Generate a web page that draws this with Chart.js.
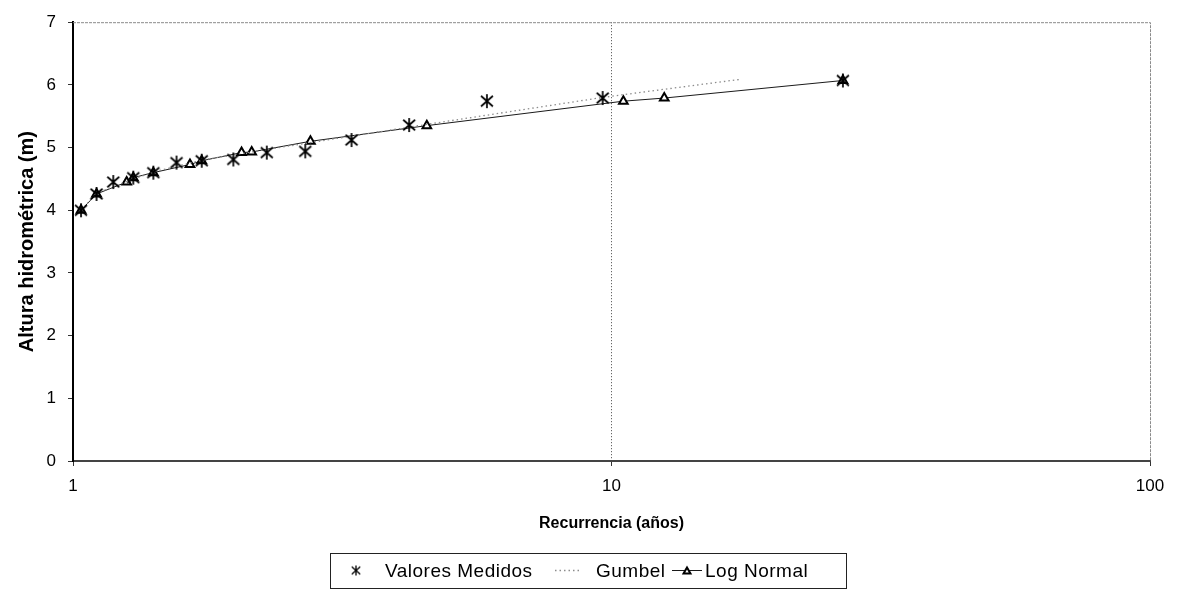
<!DOCTYPE html>
<html>
<head>
<meta charset="utf-8">
<script src="https://cdn.jsdelivr.net/npm/chart.js@4.4.1/dist/chart.umd.min.js"></script>
<style>
  html, body { margin: 0; padding: 0; background: #fff; }
  #wrap { width: 1181px; height: 590px; position: relative; }
</style>
</head>
<body>
<div id="wrap"><canvas id="chart" width="1181" height="590"></canvas></div>
<script>
// Recurrence period (years) and stage height (m) for each series
const medidosT = [1.035, 1.106, 1.188, 1.294, 1.41, 1.557, 1.734, 1.985, 2.29, 2.70, 3.29, 4.21, 5.87, 9.63, 26.9];
const medidosH = [4.00, 4.26, 4.45, 4.52, 4.60, 4.76, 4.79, 4.81, 4.92, 4.94, 5.12, 5.36, 5.74, 5.79, 6.07];

const gumbelT = [1.035, 1.106, 1.258, 1.41, 1.734, 2.147, 2.76, 4.54, 9.63, 12.53, 17.4];
const gumbelH = [4.00, 4.27, 4.46, 4.61, 4.80, 4.93, 5.08, 5.37, 5.80, 5.93, 6.09];

const logNormalT = [1.035, 1.106, 1.258, 1.294, 1.41, 1.649, 1.734, 2.056, 2.147, 2.76, 4.54, 10.52, 12.53, 26.9];
const logNormalH = [4.00, 4.26, 4.45, 4.52, 4.60, 4.73, 4.79, 4.92, 4.93, 5.10, 5.35, 5.74, 5.79, 6.07];

const xTicks = [1, 10, 100];
const yTicks = [0, 1, 2, 3, 4, 5, 6, 7];

const FONT = "'Liberation Sans', Arial, sans-serif";

function pairs(xs, ys) {
  return xs.map(function(x, i) { return {x: x, y: ys[i]}; });
}

// six-spoke asterisk used for the measured values
function asterisk(size, lw) {
  const c = document.createElement('canvas');
  c.width = size; c.height = size;
  const g = c.getContext('2d');
  const m = size / 2, r = size / 2 - 1;
  g.strokeStyle = '#000';
  g.lineWidth = lw;
  g.beginPath();
  g.moveTo(m, m - r); g.lineTo(m, m + r);
  g.moveTo(m - r * 0.85, m - r * 0.75); g.lineTo(m + r * 0.85, m + r * 0.75);
  g.moveTo(m - r * 0.85, m + r * 0.75); g.lineTo(m + r * 0.85, m - r * 0.75);
  g.stroke();
  return c;
}
const starImg = asterisk(16, 1.7);
const starSmall = asterisk(12, 1.3);

// plot frame on top/right side
const framePlugin = {
  id: 'frame',
  beforeDatasetsDraw(chart) {
    const {ctx, chartArea: a} = chart;
    ctx.save();
    ctx.strokeStyle = '#8a8a8a';
    ctx.lineWidth = 1;
    ctx.setLineDash([3, 1]);
    ctx.beginPath();
    ctx.moveTo(a.left, a.top + 0.5); ctx.lineTo(a.right + 0.5, a.top + 0.5);
    ctx.lineTo(a.right + 0.5, a.bottom);
    ctx.stroke();
    ctx.restore();
  }
};

// boxed legend below the x title, samples drawn from the dataset styles
const boxLegend = {
  id: 'boxLegend',
  afterDraw(chart, args, opts) {
    const {ctx} = chart;
    const b = opts.box;
    ctx.save();
    ctx.strokeStyle = '#222';
    ctx.lineWidth = 1;
    ctx.strokeRect(b.left + 0.5, b.top + 0.5, b.right - b.left, b.bottom - b.top);
    const cy = (b.top + b.bottom) / 2;
    chart.data.datasets.forEach(function(ds, i) {
      const it = opts.items[i];
      if (ds.showLine !== false) {
        ctx.save();
        ctx.strokeStyle = ds.borderColor;
        ctx.lineWidth = ds.borderWidth;
        ctx.setLineDash(ds.borderDash || []);
        ctx.beginPath();
        ctx.moveTo(it.x0, cy); ctx.lineTo(it.x1, cy);
        ctx.stroke();
        ctx.restore();
      }
      if (ds.pointRadius > 0) {
        ctx.save();
        ctx.fillStyle = ds.pointBackgroundColor || '#fff';
        ctx.strokeStyle = ds.pointBorderColor || '#000';
        ctx.lineWidth = ds.pointBorderWidth || 1;
        Chart.helpers.drawPoint(ctx, {
          pointStyle: ds.pointStyle === starImg ? starSmall : ds.pointStyle,
          radius: it.r || ds.pointRadius,
          borderWidth: ds.pointBorderWidth || 1,
          rotation: 0
        }, (it.x0 + it.x1) / 2, cy + (it.dy || 0));
        ctx.restore();
      }
      ctx.save();
      ctx.font = opts.font;
      ctx.letterSpacing = opts.spacing;
      ctx.fillStyle = '#000';
      ctx.textBaseline = 'middle';
      ctx.fillText(ds.label, it.tx, cy + 1);
      ctx.restore();
    });
    ctx.restore();
  }
};

const chart = new Chart('chart', {
  type: 'line',
  data: {
    datasets: [
      {
        label: 'Valores Medidos',
        data: pairs(medidosT, medidosH),
        showLine: false,
        pointStyle: starImg,
        pointRadius: 8,
        pointHoverRadius: 8
      },
      {
        label: 'Gumbel',
        data: pairs(gumbelT, gumbelH),
        borderColor: '#8c8c8c',
        borderWidth: 1.3,
        borderDash: [1.5, 3],
        pointRadius: 0,
        tension: 0
      },
      {
        label: 'Log Normal',
        data: pairs(logNormalT, logNormalH),
        borderColor: '#1a1a1a',
        borderWidth: 1,
        pointStyle: 'triangle',
        pointRadius: 5,
        pointBorderWidth: 2,
        pointBorderColor: '#000',
        pointBackgroundColor: '#fff',
        tension: 0
      }
    ]
  },
  options: {
    responsive: false,
    animation: false,
    layout: { padding: { left: 2, right: 31, top: 16, bottom: 57 } },
    plugins: {
      legend: { display: false },
      tooltip: { enabled: false },
      boxLegend: {
        font: '19px ' + FONT,
        spacing: '0.5px',
        box: { left: 330, top: 553, right: 846, bottom: 588 },
        items: [
          { x0: 356, x1: 356, tx: 385 },
          { x0: 555, x1: 580, tx: 596 },
          { x0: 672, x1: 702, tx: 705, r: 4, dy: 1 }
        ]
      }
    },
    scales: {
      x: {
        type: 'logarithmic',
        min: 1,
        max: 100,
        afterBuildTicks: function(scale) {
          scale.ticks = xTicks.map(function(v) { return {value: v}; });
        },
        afterFit: function(scale) { scale.height = 72; },
        ticks: {
          autoSkip: false,
          maxRotation: 0,
          padding: 10,
          color: '#000',
          font: { family: FONT, size: 17 },
          callback: function(v) { return String(v); }
        },
        grid: {
          drawOnChartArea: true,
          tickLength: 5,
          tickColor: '#333',
          color: function(ctx) {
            return ctx.tick && ctx.tick.value === 10 ? '#444' : 'rgba(0,0,0,0)';
          }
        },
        border: { display: true, color: '#444', width: 2, dash: [1, 2] },
        title: {
          display: true,
          text: 'Recurrencia (años)',
          color: '#000',
          font: { family: FONT, size: 16, weight: 'bold' },
          padding: { top: 0, bottom: 0 }
        }
      },
      y: {
        min: 0,
        max: 7,
        afterBuildTicks: function(scale) {
          scale.ticks = yTicks.map(function(v) { return {value: v}; });
        },
        afterFit: function(scale) { scale.width = 71; },
        ticks: {
          padding: 12,
          color: '#000',
          font: { family: FONT, size: 17 }
        },
        grid: { drawOnChartArea: false, tickLength: 5, tickColor: '#333' },
        border: { display: true, color: '#000', width: 2 },
        title: {
          display: true,
          text: 'Altura hidrométrica (m)',
          color: '#000',
          font: { family: FONT, size: 20, weight: 'bold' },
          padding: { top: 13, bottom: 0 }
        }
      }
    }
  },
  plugins: [framePlugin, boxLegend]
});
</script>
</body>
</html>
